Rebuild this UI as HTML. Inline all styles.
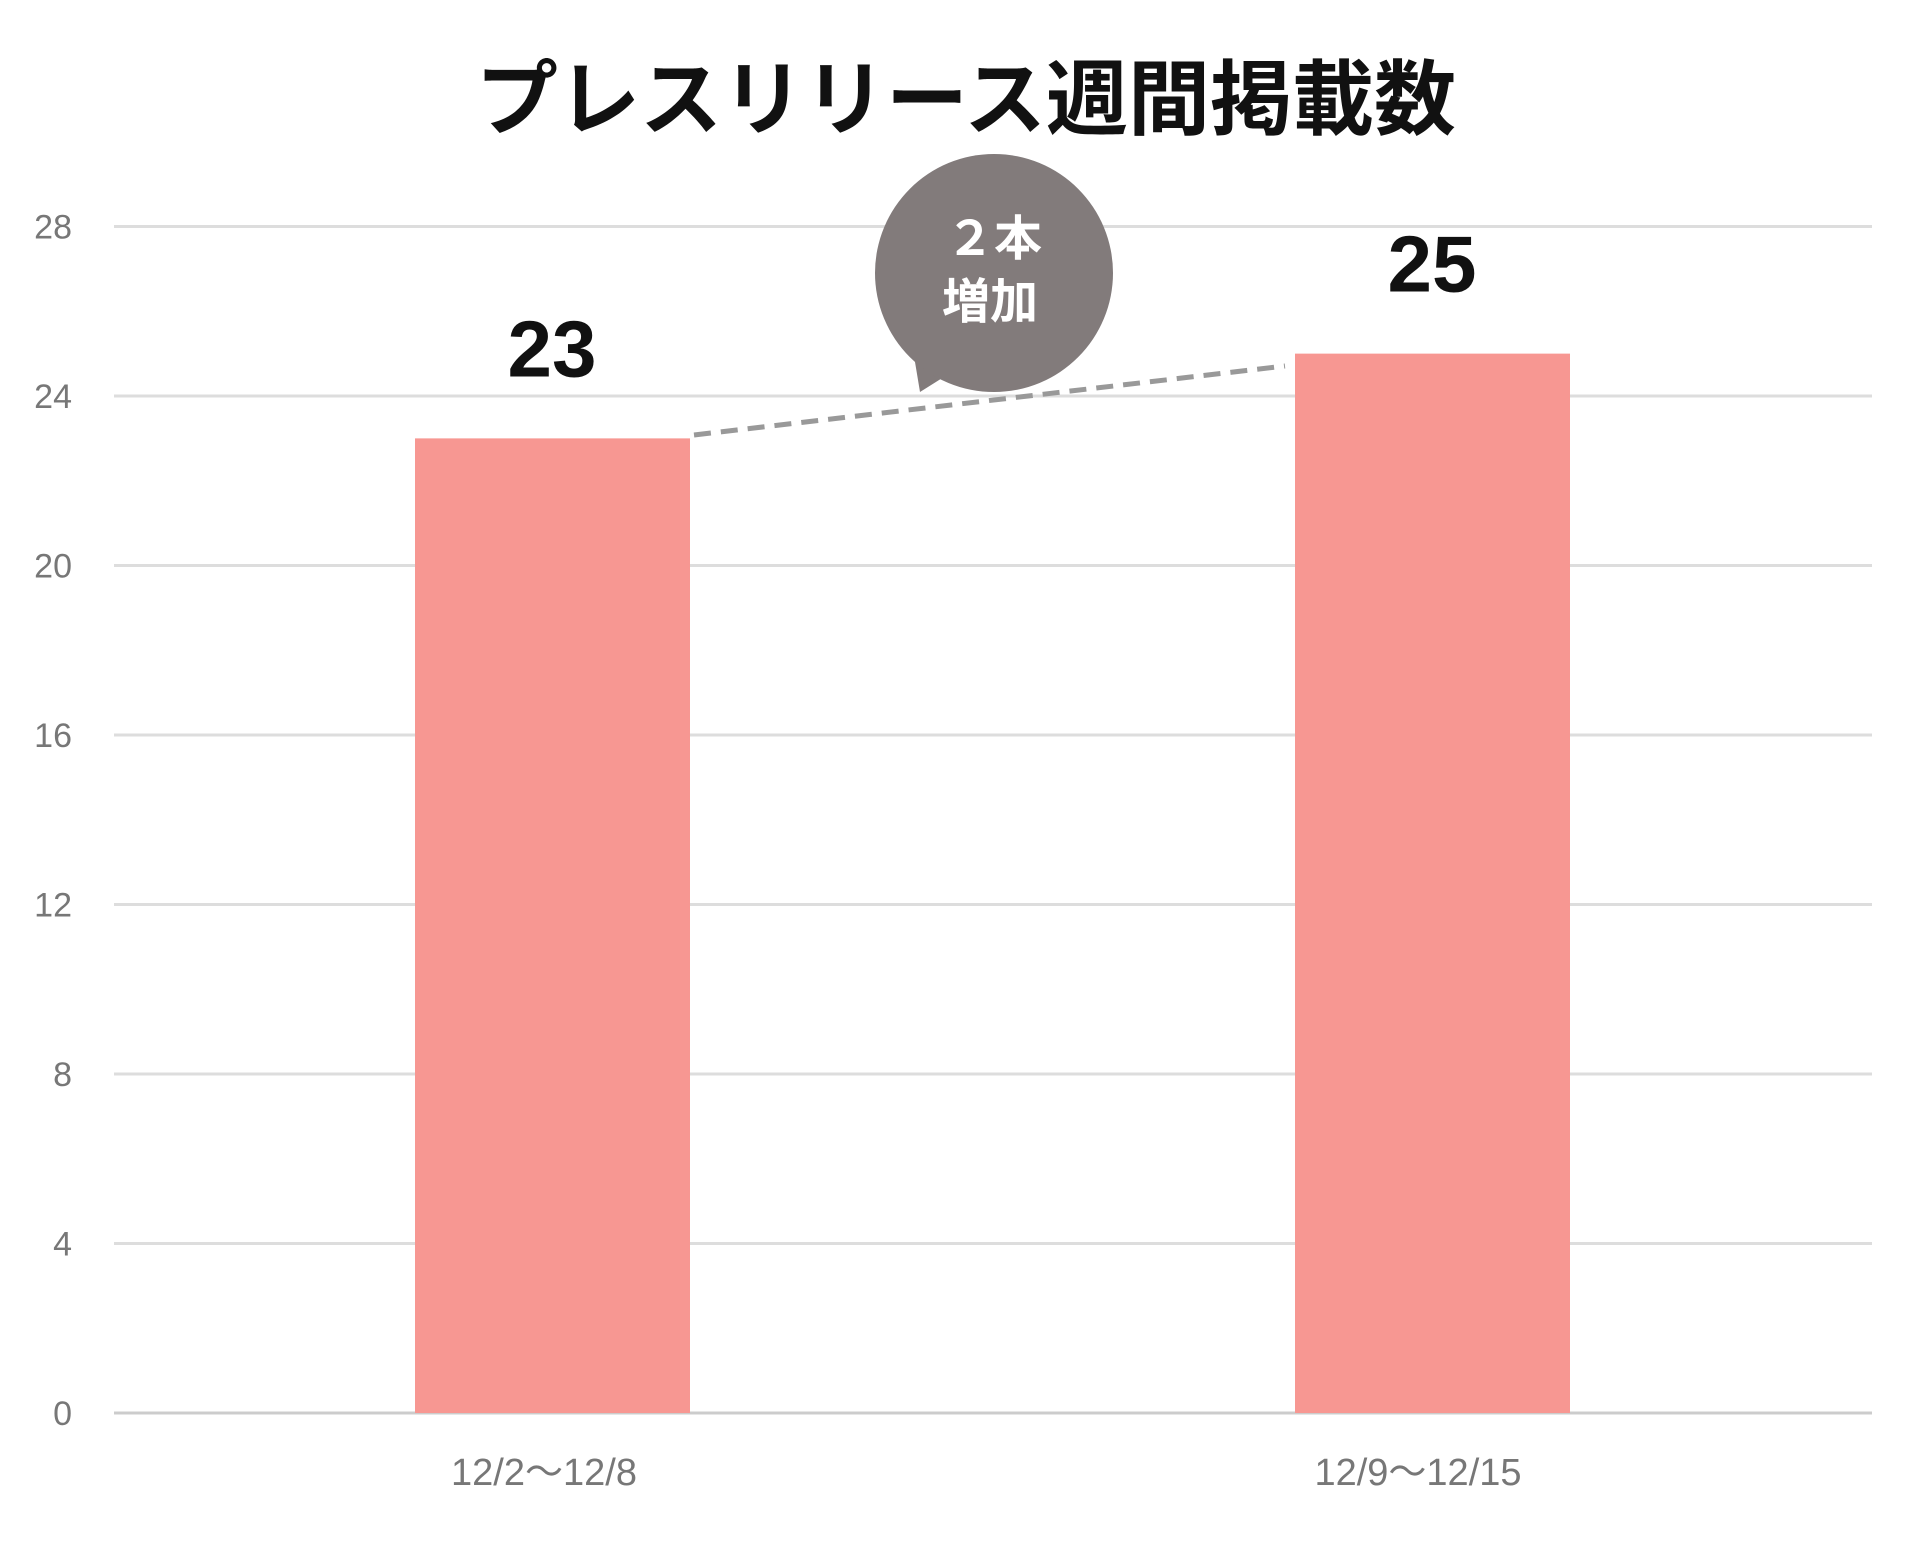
<!DOCTYPE html>
<html><head><meta charset="utf-8"><style>
body{margin:0;background:#fff;width:1920px;height:1537px;overflow:hidden}
svg text{font-family:"Liberation Sans","Noto Sans CJK JP",sans-serif}
</style></head><body>
<svg id="chart" width="1920" height="1537">
<text x="966" y="128" text-anchor="middle" font-size="82" font-weight="bold" fill="#111">プレスリリース週間掲載数</text>
<g id="grid"></g><g id="bars"></g>
<line x1="694" y1="435" x2="1285" y2="366" stroke="#999" stroke-width="5" stroke-dasharray="17,10"/>
<g>
<path d="M920 392 L913 350 L955 370 Z" fill="#827b7b"/>
<circle cx="994" cy="273" r="119" fill="#827b7b"/>
<text x="994" y="255" text-anchor="middle" font-size="48" font-weight="bold" fill="#fff">２本</text>
<text x="990" y="318" text-anchor="middle" font-size="48" font-weight="bold" fill="#fff">増加</text>
</g>
</svg>
<script>
const categories=["12/2〜12/8","12/9〜12/15"];
const values=[23,25];
const ticks=[0,4,8,12,16,20,24,28];
const NS="http://www.w3.org/2000/svg";
const y=v=>1413-v*(1413-226.5)/28;
const xc=i=>[552,1432][i];
const g=document.getElementById('grid'),b=document.getElementById('bars');
function mk(tag,attrs,parent,txt){const e=document.createElementNS(NS,tag);for(const k in attrs)e.setAttribute(k,attrs[k]);if(txt!==undefined)e.textContent=txt;parent.appendChild(e);return e;}
ticks.forEach(t=>{
const l=mk('line',{x1:114,x2:1872,y1:y(t),y2:y(t),stroke:t===0?'#ccc':'#ddd','stroke-width':3},g);


const tx=mk('text',{x:72,y:y(t)+12,'text-anchor':'end','font-size':34,fill:'#777'},g,String(t));


});
values.forEach((v,i)=>{
const r=mk('rect',{x:xc(i)-137,y:y(v),width:275,height:y(0)-y(v),fill:'#f79792'},b);


const vl=mk('text',{x:xc(i),y:y(v)-62,'text-anchor':'middle','font-size':80,'font-weight':'bold',fill:'#111'},b,String(v));


const cl=mk('text',{x:xc(i)-8-i*6,y:1485,'text-anchor':'middle','font-size':38,fill:'#777'},b,categories[i]);


});
</script>
</body></html>
